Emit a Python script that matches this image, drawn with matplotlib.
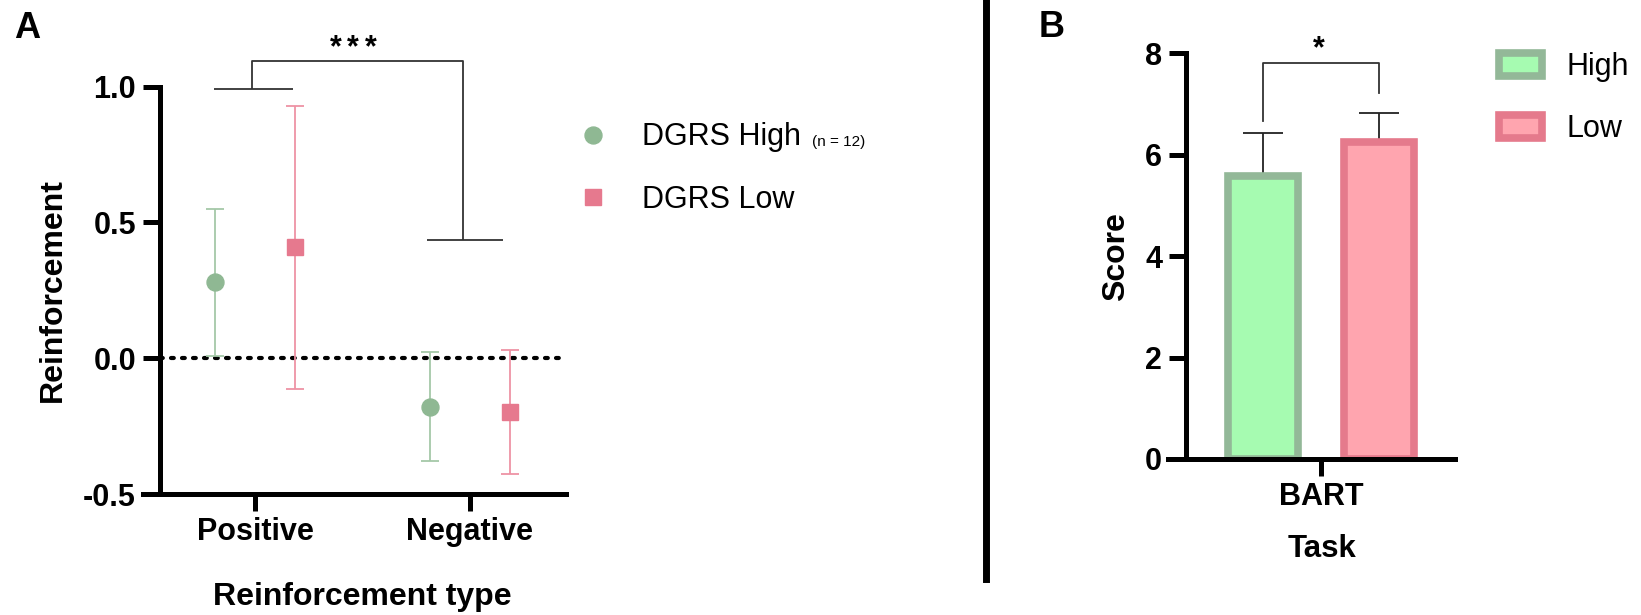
import matplotlib
matplotlib.use("Agg")
import matplotlib.pyplot as plt
import numpy as np
from matplotlib.lines import Line2D

plt.rcParams["font.family"] = ["Liberation Sans", "DejaVu Sans"]

W, H = 1641, 615

# panel A: reinforcement by type, mean and error
rein_types = ["Positive", "Negative"]
high_mean = [0.28, -0.178]
high_err = [0.27, 0.20]
low_mean = [0.408, -0.198]
low_err = [0.52, 0.227]
a_yticks = [-0.5, 0.0, 0.5, 1.0]
a_ytick_labels = ["-0.5", "0.0", "0.5", "1.0"]

# panel B: BART score
tasks = ["BART"]
bart_high = [5.59]
bart_high_err = [0.83]
bart_low = [6.25]
bart_low_err = [0.57]
b_yticks = [0, 2, 4, 6, 8]

green_mk, green_err = "#8FB893", "#A5C8A8"
pink_mk, pink_err = "#E6798E", "#EE93A5"
green_fill, green_edge = "#A6FBB1", "#93B898"
pink_fill, pink_edge = "#FFA5AF", "#E57A8C"

SPINE = 3.6
FS = 22
LAB = 23


def px_axes(fig, left, top, right, bottom):
    return fig.add_axes([left / W, 1 - bottom / H, (right - left) / W, (bottom - top) / H])


def style_axes(ax, spine_x):
    for s in ["top", "right"]:
        ax.spines[s].set_visible(False)
    for s in ["left", "bottom"]:
        ax.spines[s].set_linewidth(SPINE)
    ax.spines["left"].set_position(("data", spine_x))
    ax.tick_params(width=SPINE, length=12.2, labelsize=FS)
    ax.tick_params(axis="y", pad=5)
    ax.tick_params(axis="x", pad=4.5)
    for lab in ax.get_xticklabels() + ax.get_yticklabels():
        lab.set_fontweight("bold")


fig = plt.figure(figsize=(W / 100, H / 100), dpi=100)

# ---------------- panel A ----------------
ax = px_axes(fig, 143, 86.7, 566, 494)
x = np.arange(len(rein_types))
off = 0.186
ax.set_xlim(-0.521, 1.447)
ax.set_ylim(-0.5, 1.0)
spine_a = -0.442
ax.plot([spine_a, 1.447], [0, 0], color="black", lw=3, linestyle=(0, (0.67, 1.97)),
        dash_capstyle="round", zorder=1)
ax.errorbar(x - off, high_mean, yerr=high_err, fmt="o", color=green_mk, ecolor=green_err,
            markersize=12.2, elinewidth=1.3, capsize=6.7, capthick=1.3, zorder=3)
ax.errorbar(x + off, low_mean, yerr=low_err, fmt="s", color=pink_mk, ecolor=pink_err,
            markersize=12.2, elinewidth=1.3, capsize=6.7, capthick=1.3, zorder=3)
ax.set_xticks(x)
ax.set_xticklabels(rein_types)
ax.set_yticks(a_yticks)
ax.set_yticklabels(a_ytick_labels)
style_axes(ax, spine_a)

# significance bracket
br = dict(color="#333333", lw=1.3, clip_on=False, solid_capstyle="butt")
ax.plot([-0.191, 0.177], [0.99, 0.99], **br)
ax.plot([0.8, 1.153], [0.437, 0.437], **br)
ax.plot([-0.014, -0.014, 0.97, 0.97], [0.99, 1.094, 1.094, 0.437], **br)
for cx in (335.5, 353, 370.5):
    fig.text(cx / W, 1 - 56 / H, "*", ha="center", va="baseline", fontsize=FS,
             fontweight="bold")

fig.text(53 / W, 1 - 290 / H, "Reinforcement", rotation=90, ha="center", va="center",
         fontsize=LAB, fontweight="bold")
fig.text(362 / W, 1 - 605 / H, "Reinforcement type", ha="center", va="baseline",
         fontsize=LAB, fontweight="bold")

h_high = Line2D([], [], marker="o", ls="none", color=green_mk, markersize=12.2)
h_low = Line2D([], [], marker="s", ls="none", color=pink_mk, markersize=12.2)
leg_a = fig.legend([h_high, h_low], ["DGRS High", "DGRS Low"], loc="upper left",
                   bbox_to_anchor=(577.7 / W, 1 - 122.5 / H), frameon=False,
                   prop={"size": FS}, handlelength=1.0, handletextpad=1.1,
                   labelspacing=1.06, borderpad=0, borderaxespad=0)

# ---------------- panel B ----------------
bx = px_axes(fig, 1168, 53.3, 1455, 459)
xb = np.arange(len(tasks))
bw = 0.609
bx.set_xlim(-1.325, 1.160)
bx.set_ylim(0, 8)
bars_h = bx.bar(xb - 0.5, bart_high, width=bw, color=green_fill, edgecolor=green_edge,
                linewidth=5.5, label="High", zorder=2)
bars_l = bx.bar(xb + 0.5, bart_low, width=bw, color=pink_fill, edgecolor=pink_edge,
                linewidth=5.5, label="Low", zorder=2)
bx.errorbar(xb - 0.5, bart_high, yerr=[[0] * len(tasks), bart_high_err], fmt="none",
            ecolor="#222222", elinewidth=1.3, capsize=14.4, capthick=1.3, zorder=1)
bx.errorbar(xb + 0.5, bart_low, yerr=[[0] * len(tasks), bart_low_err], fmt="none",
            ecolor="#222222", elinewidth=1.3, capsize=14.4, capthick=1.3, zorder=1)
bx.set_xticks(xb)
bx.set_xticklabels(tasks)
bx.set_yticks(b_yticks)
style_axes(bx, -1.169)

bx.plot([-0.5, -0.5, 0.5, 0.5], [6.67, 7.8, 7.8, 7.22], color="#333333", lw=1.3,
        clip_on=False)
fig.text(1319 / W, 1 - 57 / H, "*", ha="center", va="baseline", fontsize=FS, fontweight="bold")

fig.text(1116 / W, 1 - 257 / H, "Score", rotation=90, ha="center", va="center",
         fontsize=LAB, fontweight="bold")
fig.text(1322 / W, 1 - 557 / H, "Task", ha="center", va="baseline",
         fontsize=22.5, fontweight="bold")

fig.legend([bars_h, bars_l], ["High", "Low"], loc="upper left",
           bbox_to_anchor=(1499 / W, 1 - 52.5 / H), frameon=False, prop={"size": FS},
           handlelength=1.42, handleheight=0.78, handletextpad=0.8,
           labelspacing=1.04, borderpad=0, borderaxespad=0)

# panel letters and divider
fig.text(14 / W, 1 - 38.3 / H, "A", ha="left", va="baseline", fontsize=26, fontweight="bold")
fig.text(1039 / W, 1 - 37 / H, "B", ha="left", va="baseline", fontsize=26, fontweight="bold")
fig.add_artist(Line2D([985.7 / W, 985.7 / W], [1, 1 - 579 / H], color="black", lw=5,
                      transform=fig.transFigure))

# small n annotation after the first legend entry
fig.canvas.draw()
ext = leg_a.get_texts()[0].get_window_extent(fig.canvas.get_renderer())
fig.text((ext.x1 + 11) / W, (ext.y0 + 0.21 * FS * 100 / 72) / H, "(n = 12)",
         ha="left", va="baseline", fontsize=11)

fig.savefig("out.png", dpi=100)
